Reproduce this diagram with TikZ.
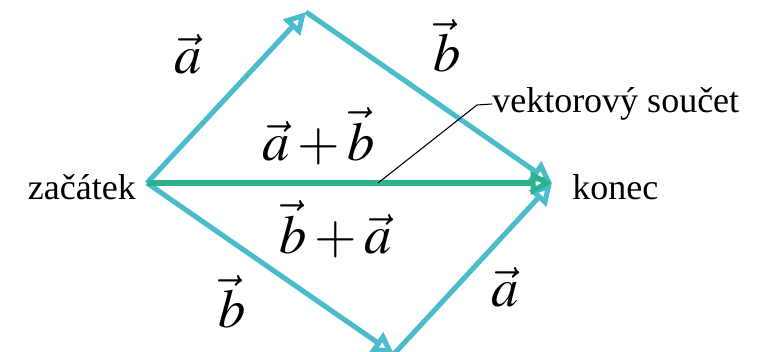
\documentclass[tikz,border=0pt]{standalone}
\usepackage{mathptmx}
\usepackage{fontspec}
\setmainfont{Liberation Serif}
\usepackage{tikz}
\usetikzlibrary{arrows.meta,positioning}

\definecolor{vecblue}{RGB}{75,188,203}
\definecolor{sumgreen}{RGB}{45,178,140}

\begin{document}
\begin{tikzpicture}[
    x=0.75pt, y=-0.75pt,
    vec/.style={line width=3.8pt, draw=vecblue, -{Triangle[open, length=16pt, width=17pt]}},
    sumvec/.style={vec, draw=sumgreen},
    veclabel/.style={font=\fontsize{41}{44}\selectfont},
    txt/.style={font=\fontsize{27}{30}\selectfont, inner sep=0pt},
    leader/.style={draw=black, line width=0.8pt}
]
    \clip (0,0) rectangle (758,352);

    % --- body ---
    \coordinate (start) at (147,183);
    \coordinate (top) at (306,12);
    \coordinate (bottom) at (394,354);
    \coordinate (end) at (552,183);

    \draw[vec] (start) -- (top);
    \draw[vec] (top) -- (end);
    \draw[vec] (start) -- (bottom);
    \draw[vec] (bottom) -- (end);
    \draw[sumvec] (start) -- (end);

    % --- popisky ---
    \node[veclabel] (a1) at (188,54) {$\vec{a}$};
    \node[veclabel] (b1) at (447,46) {$\vec{b}$};
    \node[veclabel] (ab) at (319,136) {$\vec{a}+\vec{b}$};
    \node[veclabel] (ba) at (336,229) {$\vec{b}+\vec{a}$};
    \node[veclabel] (b2) at (232,302) {$\vec{b}$};
    \node[veclabel] (a2) at (505,287) {$\vec{a}$};

    \node[txt, anchor=east] (zacatek) at (136,187) {začátek};
    \node[txt, anchor=west] (konec) at (572,187) {konec};
    \node[txt, anchor=west] (soucet) at (492,104) {vektorový součet};

    \coordinate (foot) at (378,183);
    \coordinate (knee) at (477,105);
    \draw[leader] (foot) -- (knee) -- (soucet.west);
\end{tikzpicture}
\end{document}
